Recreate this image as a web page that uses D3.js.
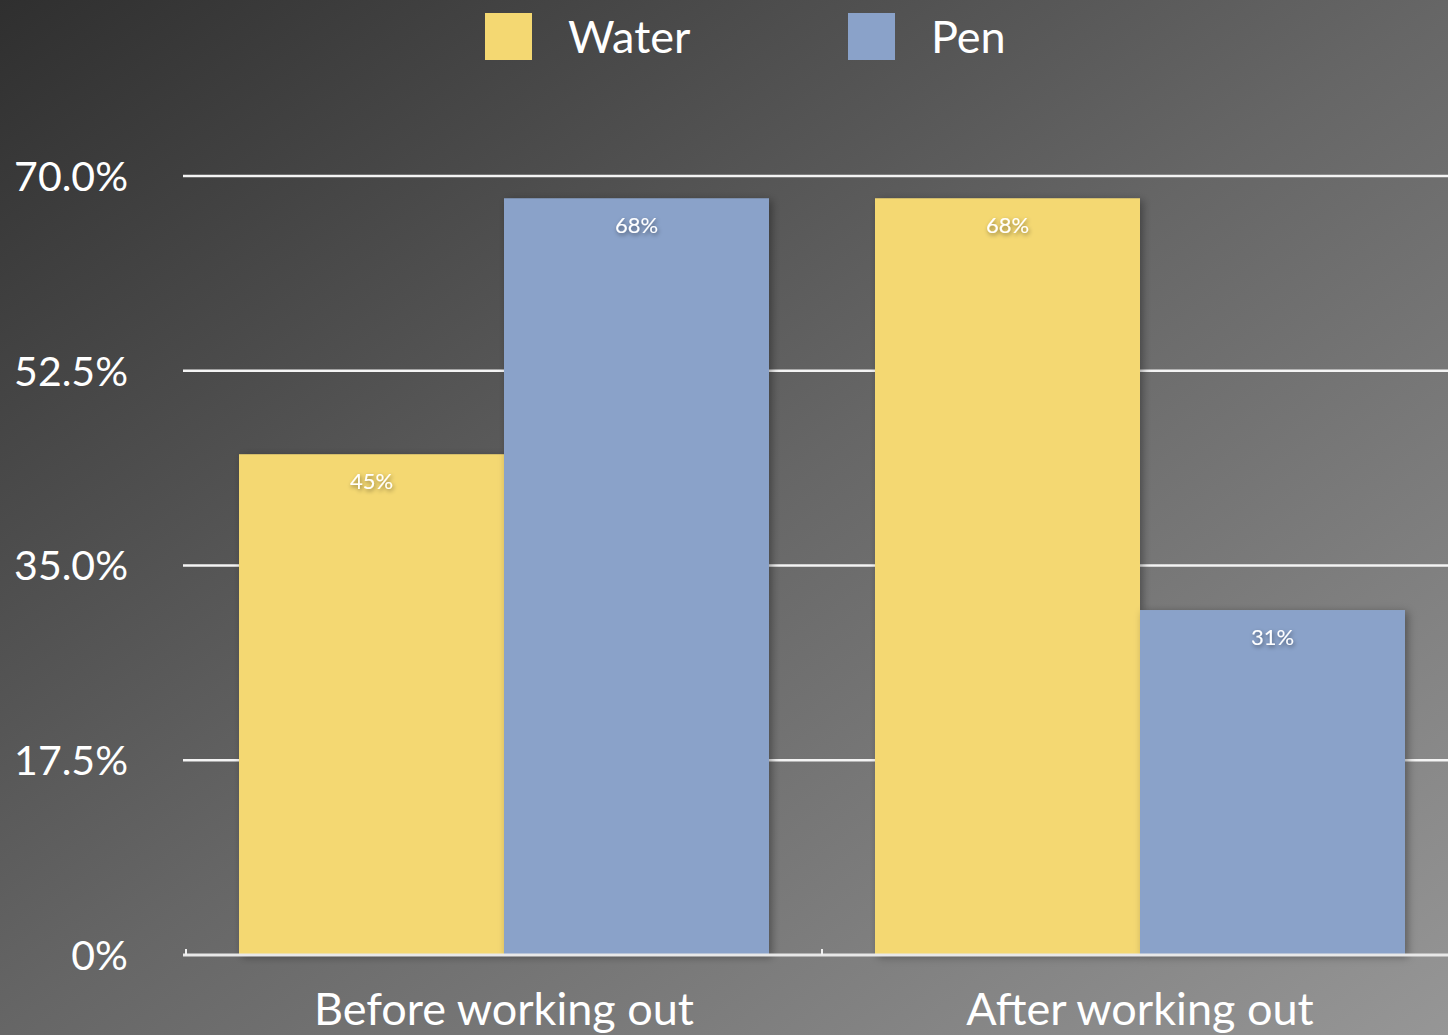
<!DOCTYPE html>
<html>
<head>
<meta charset="utf-8">
<script src="https://cdn.jsdelivr.net/npm/d3@7"></script>
<style>
  html, body { margin: 0; padding: 0; background: #555; }
  svg { display: block; }
  text { font-family: "Lato", "Open Sans", sans-serif; fill: #fff; }
</style>
</head>
<body>
<div id="chart"></div>
<script>
// chart data
var categories = ["Before working out", "After working out"];
var seriesNames = ["Water", "Pen"];
var waterValues = [45, 68];
var penValues = [68, 31];
var tickValues = [0, 17.5, 35, 52.5, 70];
var tickLabels = ["0%", "17.5%", "35.0%", "52.5%", "70.0%"];

var width = 1448, height = 1035;
var colors = { Water: "#f4d872", Pen: "#8aa2c9" };

var svg = d3.select("#chart").append("svg")
    .attr("width", width)
    .attr("height", height);

var defs = svg.append("defs");

// diagonal background gradient, dark top-left to light bottom-right
var bg = defs.append("linearGradient")
    .attr("id", "bgGrad")
    .attr("gradientUnits", "userSpaceOnUse")
    .attr("x1", 0).attr("y1", 0)
    .attr("x2", 979).attr("y2", 1370);
bg.append("stop").attr("offset", "0%").attr("stop-color", "#2f2f2f");
bg.append("stop").attr("offset", "50%").attr("stop-color", "#666666");
bg.append("stop").attr("offset", "100%").attr("stop-color", "#969696");

// soft shadow for the bars
var shadow = defs.append("filter").attr("id", "barShadow")
    .attr("x", "-10%").attr("y", "-10%").attr("width", "125%").attr("height", "125%");
shadow.append("feDropShadow")
    .attr("dx", 3).attr("dy", 2).attr("stdDeviation", 4)
    .attr("flood-color", "#000").attr("flood-opacity", 0.35);

// text shadow for value labels
var tshadow = defs.append("filter").attr("id", "textShadow")
    .attr("x", "-20%").attr("y", "-30%").attr("width", "140%").attr("height", "160%");
tshadow.append("feDropShadow")
    .attr("dx", 1).attr("dy", 2).attr("stdDeviation", 2)
    .attr("flood-color", "#000").attr("flood-opacity", 0.45);

svg.append("rect")
    .attr("width", width)
    .attr("height", height)
    .attr("fill", "url(#bgGrad)");

// scales
var x0 = d3.scaleBand()
    .domain(categories)
    .range([186, 1458])
    .padding(0);

var x1 = d3.scaleBand()
    .domain(seriesNames)
    .range([0, x0.bandwidth()])
    .paddingInner(0)
    .paddingOuter(0.2);

var y = d3.scaleLinear()
    .domain([0, 70])
    .range([955, 176]);

// gridlines
svg.append("g")
    .selectAll("line")
    .data(tickValues.filter(function(d) { return d > 0; }))
    .join("line")
    .attr("x1", 183)
    .attr("x2", width)
    .attr("y1", function(d) { return y(d); })
    .attr("y2", function(d) { return y(d); })
    .attr("stroke", "#f4f4f4")
    .attr("stroke-width", 2.5);

// y tick labels
svg.append("g")
    .selectAll("text")
    .data(tickValues)
    .join("text")
    .attr("x", 128)
    .attr("y", function(d) { return y(d); })
    .attr("dy", "0.36em")
    .attr("text-anchor", "end")
    .attr("font-size", 41)
    .text(function(d, i) { return tickLabels[i]; });

// bars
var rows = categories.map(function(c, i) {
    return { category: c, values: [
        { key: "Water", value: waterValues[i] },
        { key: "Pen", value: penValues[i] }
    ] };
});

var groups = svg.append("g")
    .selectAll("g")
    .data(rows)
    .join("g")
    .attr("transform", function(d) { return "translate(" + x0(d.category) + ",0)"; });

groups.selectAll("rect")
    .data(function(d) { return d.values; })
    .join("rect")
    .attr("x", function(d) { return x1(d.key); })
    .attr("y", function(d) { return y(d.value); })
    .attr("width", x1.bandwidth())
    .attr("height", function(d) { return y(0) - y(d.value); })
    .attr("fill", function(d) { return colors[d.key]; })
    .attr("filter", "url(#barShadow)");

groups.selectAll("text")
    .data(function(d) { return d.values; })
    .join("text")
    .attr("x", function(d) { return x1(d.key) + x1.bandwidth() / 2; })
    .attr("y", function(d) { return y(d.value) + 35; })
    .attr("text-anchor", "middle")
    .attr("font-size", 22)
    .attr("filter", "url(#textShadow)")
    .text(function(d) { return d.value + "%"; });

// baseline and category ticks
svg.append("line")
    .attr("x1", 183).attr("x2", width)
    .attr("y1", y(0)).attr("y2", y(0))
    .attr("stroke", "#e8e8e8")
    .attr("stroke-width", 3);

svg.append("g")
    .selectAll("line")
    .data(categories)
    .join("line")
    .attr("x1", function(d) { return x0(d); })
    .attr("x2", function(d) { return x0(d); })
    .attr("y1", y(0) - 6)
    .attr("y2", y(0))
    .attr("stroke", "#f0f0f0")
    .attr("stroke-width", 2);

// category labels
svg.append("g")
    .selectAll("text")
    .data(categories)
    .join("text")
    .attr("x", function(d) { return x0(d) + x0.bandwidth() / 2; })
    .attr("y", 1025)
    .attr("text-anchor", "middle")
    .attr("font-size", 45)
    .text(function(d) { return d; });

// legend
var legendX = [485, 848];
var legend = svg.append("g")
    .selectAll("g")
    .data(seriesNames)
    .join("g")
    .attr("transform", function(d, i) { return "translate(" + legendX[i] + ",13)"; });

legend.append("rect")
    .attr("width", 47)
    .attr("height", 47)
    .attr("fill", function(d) { return colors[d]; });

legend.append("text")
    .attr("x", 83)
    .attr("y", 40)
    .attr("font-size", 45)
    .text(function(d) { return d; });
</script>
</body>
</html>
